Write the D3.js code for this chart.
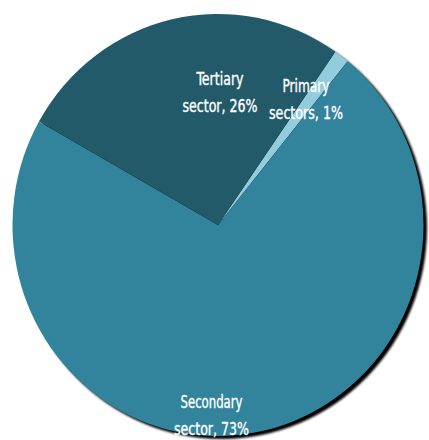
<!DOCTYPE html>
<head>
<meta charset="utf-8">
<title>Sector shares pie</title>
<script src="https://cdn.jsdelivr.net/npm/d3@7"></script>
<style>
    body { margin: 0; background: #fff; }
    svg { display: block; }
</style>
</head>
<body>
<script>
    // data
    var sectors = ["Primary sectors", "Secondary sector", "Tertiary sector"];
    var shares  = [1.2, 72.3, 26.5];            // slice sizes as drawn
    var labelLines = [["Primary", "sectors, 1%"],
                      ["Secondary", "sector, 73%"],
                      ["Tertiary", "sector, 26%"]];
    var colors = ["#93cddd", "#31849b", "#235a69"];

    var width = 429, height = 440;
    var cx = 218, cy = 225;
    var ry = 211, rx = 205.5; // slightly squeezed horizontally

    var svg = d3.select("body").append("svg")
        .attr("width", width)
        .attr("height", height);

    var defs = svg.append("defs");
    defs.append("filter")
        .attr("id", "blur")
        .append("feGaussianBlur")
        .attr("stdDeviation", 0.8);

    // drop shadow
    svg.append("ellipse")
        .attr("cx", cx + 3.5)
        .attr("cy", cy + 3)
        .attr("rx", rx)
        .attr("ry", ry)
        .attr("fill", "#000")
        .attr("filter", "url(#blur)");

    var pie = d3.pie()
        .sort(null)
        .value(d => d)
        .startAngle(34.8 * Math.PI / 180)
        .endAngle(34.8 * Math.PI / 180 + 2 * Math.PI);

    var arc = d3.arc().innerRadius(0).outerRadius(ry);

    var g = svg.append("g")
        .attr("transform", "translate(" + cx + "," + cy + ") scale(" + (rx / ry) + ",1)");

    g.selectAll("path")
        .data(pie(shares))
        .enter()
        .append("path")
        .attr("d", arc)
        .attr("fill", (d, i) => colors[i]);

    // labels (position, width of each line)
    var labelPos = [
        { x: 306, y: 92, w: [47, 74] },
        { x: 211.5, y: 408, w: [62, 75] },
        { x: 220, y: 85, w: [47, 75] }
    ];

    labelLines.forEach(function(lines, i) {
        var p = labelPos[i];
        lines.forEach(function(t, j) {
            svg.append("text")
                .attr("x", p.x)
                .attr("y", p.y + j * 26.5)
                .attr("text-anchor", "middle")
                .attr("textLength", p.w[j])
                .attr("lengthAdjust", "spacingAndGlyphs")
                .style("font-family", "'DejaVu Sans Condensed', 'DejaVu Sans', sans-serif")
                .style("font-size", "17px")
                .style("fill", "#fff")
                .style("stroke", "#fff")
                .style("stroke-width", 0.35)
                .text(t);
        });
    });
</script>
</body>
</html>
